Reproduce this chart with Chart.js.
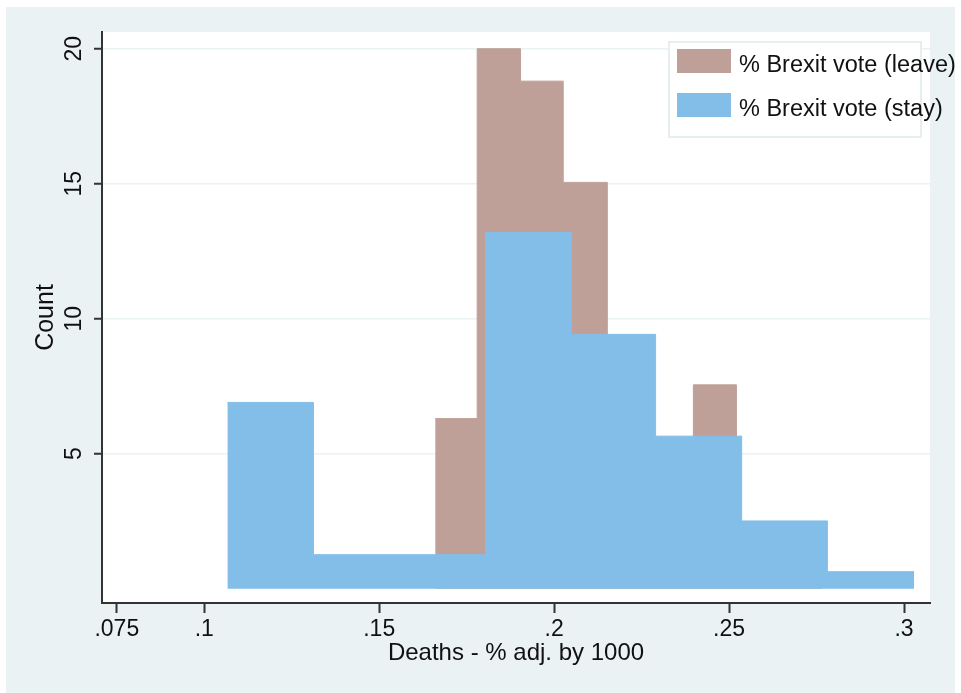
<!DOCTYPE html>
<html>
<head>
<meta charset="utf-8">
<script src="https://cdn.jsdelivr.net/npm/chart.js@4.4.1/dist/chart.umd.min.js"></script>
<style>
  html, body { margin: 0; padding: 0; background: #fff; }
  #wrap { position: absolute; left: 6px; top: 7px; width: 949px; height: 686px; background: #eaf2f3; overflow: hidden; }
  #wrap canvas { position: absolute; left: 0; top: 0; }
  #legend { position: absolute; left: 662px; top: 34px; width: 250px; height: 93px; background: #fff; border: 2px solid #e6eef1; }
  #legend .sw { position: absolute; left: 7px; width: 54px; height: 24px; }
  #legend .lab { position: absolute; left: 69px; font: 23.5px "Liberation Sans", Arial, sans-serif; line-height: 24px; color: #111; white-space: nowrap; }
</style>
</head>
<body>
<div id="wrap">
  <canvas id="hist" width="949" height="686"></canvas>
  <div id="legend">
    <span class="sw" style="top:6px;background:#bea098"></span>
    <span class="lab" style="top:9px">% Brexit vote (leave)</span>
    <span class="sw" style="top:50px;background:#83bee9"></span>
    <span class="lab" style="top:53px">% Brexit vote (stay)</span>
  </div>
</div>
<script>
// histogram bin edges and heights
var leaveEdges = [0.1660, 0.1780, 0.1904, 0.2026, 0.2152, 0.2274, 0.2398, 0.2521, 0.2643, 0.2766];
var leaveCounts = [6.3, 20.0, 18.8, 15.05, 8.8, 5.0, 7.55, 2.3, 1.1];

var stayEdges = [0.1066, 0.1312, 0.1557, 0.1804, 0.2049, 0.2290, 0.2536, 0.2781, 0.3029];
var stayCounts = [6.9, 1.26, 1.26, 13.2, 9.42, 5.65, 2.51, 0.63];

var xTicks = [0.075, 0.1, 0.15, 0.2, 0.25, 0.3];
var xTickLabels = [".075", ".1", ".15", ".2", ".25", ".3"];
var yTicks = [5, 10, 15, 20];

var leaveColor = "#bea098";
var stayColor = "#83bee9";
var fontFamily = '"Liberation Sans", Arial, sans-serif';

// turn edges + heights into step points
function steps(edges, counts) {
  var pts = counts.map(function (c, i) { return { x: edges[i], y: c }; });
  pts.push({ x: edges[edges.length - 1], y: counts[counts.length - 1] });
  return pts;
}

var plotBg = {
  id: "plotBg",
  beforeDraw: function (chart) {
    var a = chart.chartArea, ctx = chart.ctx;
    ctx.save();
    ctx.fillStyle = "#ffffff";
    ctx.fillRect(a.left, a.top, a.right - a.left, a.bottom - a.top);
    ctx.restore();
  }
};

var histChart = new Chart(document.getElementById("hist"), {
  type: "line",
  data: {
    datasets: [
      {
        label: "% Brexit vote (leave)",
        data: steps(leaveEdges, leaveCounts),
        backgroundColor: leaveColor,
        borderColor: leaveColor,
        borderWidth: 1,
        stepped: true,
        fill: "origin",
        pointRadius: 0,
        order: 1
      },
      {
        label: "% Brexit vote (stay)",
        data: steps(stayEdges, stayCounts),
        backgroundColor: stayColor,
        borderColor: stayColor,
        borderWidth: 1,
        stepped: true,
        fill: "origin",
        pointRadius: 0,
        order: 0
      }
    ]
  },
  options: {
    responsive: false,
    animation: false,
    events: [],
    layout: { padding: { left: 0, top: 25, right: 25, bottom: 0 } },
    plugins: { legend: { display: false }, tooltip: { enabled: false } },
    scales: {
      x: {
        type: "linear",
        min: 0.07077,
        max: 0.30743,
        afterBuildTicks: function (scale) {
          scale.ticks = xTicks.map(function (v) { return { value: v }; });
        },
        afterFit: function (scale) { scale.height = 90; },
        ticks: {
          autoSkip: false,
          maxRotation: 0,
          padding: 3,
          color: "#111",
          font: { family: fontFamily, size: 23 },
          callback: function (value, index) { return xTickLabels[index]; }
        },
        grid: { drawOnChartArea: false, drawTicks: true, tickLength: 10, tickColor: "#333", tickWidth: 2 },
        border: { display: true, color: "#333", width: 2 },
        title: {
          display: true,
          text: "Deaths - % adj. by 1000",
          color: "#111",
          font: { family: fontFamily, size: 24 },
          padding: { top: 0, bottom: 25 }
        }
      },
      y: {
        type: "linear",
        min: -0.53,
        max: 20.62,
        afterBuildTicks: function (scale) {
          scale.ticks = yTicks.map(function (v) { return { value: v }; });
        },
        afterFit: function (scale) { scale.width = 96; },
        ticks: {
          minRotation: 90,
          maxRotation: 90,
          crossAlign: "center",
          padding: 7,
          color: "#111",
          font: { family: fontFamily, size: 23 },
          callback: function (value) { return String(value); }
        },
        grid: { color: "#eaf2f3", lineWidth: 1.5, drawTicks: true, tickLength: 8, tickColor: "#333", tickWidth: 2 },
        border: { display: true, color: "#333", width: 2 },
        title: {
          display: true,
          text: "Count",
          color: "#111",
          font: { family: fontFamily, size: 25 },
          padding: { top: 25, bottom: 0 }
        }
      }
    }
  },
  plugins: [plotBg]
});
</script>
</body>
</html>
